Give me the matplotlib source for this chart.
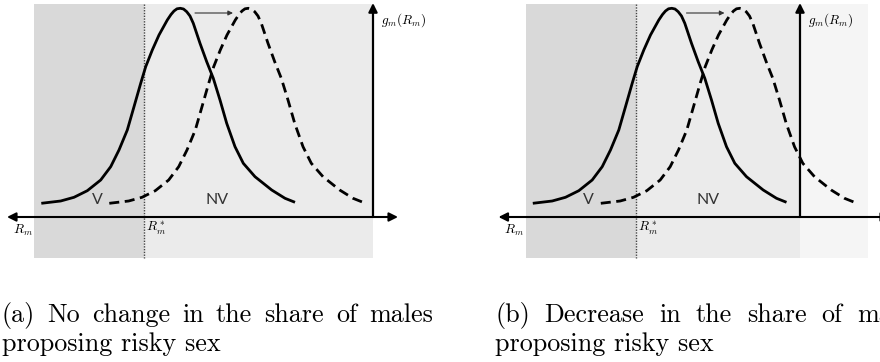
import matplotlib
matplotlib.use('Agg')
import matplotlib.pyplot as plt

plt.rcParams['mathtext.fontset'] = 'cm'

# solid density: x position and height above the R_m axis
curve_x = [41.3, 60.7, 74, 87.3, 100.7, 110.7, 119, 127.3, 134, 140.7, 145.7, 152.3,
           159, 167.3, 171, 174, 177, 180.3, 183.5, 186.7, 190, 193.3, 200, 206.7,
           213.3, 220, 226.7, 235, 243.3, 255, 271.7, 285, 295]
curve_h = [13.7, 16, 19.7, 26.3, 37, 50.3, 67, 87, 110.3, 133.7, 150.3, 167,
           182, 197, 202.5, 206, 208.2, 208.7, 208, 205.3, 201, 193.7, 173.7, 155.3,
           138.7, 117, 93.7, 70.3, 53.7, 40.3, 27, 18.7, 14.7]
shift = 68          # dashed curve = solid moved right
axis_y = 217

panels = ['a', 'b']
offsets = [0, 491.5]
vaxis_x = [373, 800]
rect_right = [373, 868]
cut_x = 144          # R_m^* in panel (a)

cap1 = [['(a)', 'No', 'change', 'in', 'the', 'share', 'of', 'males'],
        ['(b)', 'Decrease', 'in', 'the', 'share', 'of', 'males']]
cap1_span = [(2, 433), (495, None)]   # left edge, right edge of first caption line
last_word_x = [370, 857]
cap2 = 'proposing risky sex'
cap_size = 18.8

fig = plt.figure(figsize=(8.8, 3.62), dpi=100)
ax = fig.add_axes([0, 0, 1, 1])
ax.set_xlim(0, 880)
ax.set_ylim(362, 0)
ax.axis('off')
renderer = fig.canvas.get_renderer()

for i, p in enumerate(panels):
    o = offsets[i]
    left = 34 + o
    cx = cut_x + o
    # background shading
    ax.fill_between([left, cx], 4, 258, color='#d9d9d9', lw=0)
    ax.fill_between([cx, vaxis_x[i]], 4, 258, color='#ebebeb', lw=0)
    if rect_right[i] > vaxis_x[i]:
        ax.fill_between([vaxis_x[i], rect_right[i]], 4, 258, color='#f5f5f5', lw=0)
    ax.plot([cx, cx], [4, 258], color='#444444', lw=1.0, ls=(0, (1, 1)))

    # axes arrows
    right_end = 398 if p == 'a' else 890
    ax.annotate('', xy=(7 + o, axis_y), xytext=(right_end, axis_y),
                arrowprops=dict(arrowstyle='<|-|>', lw=1.5, color='black',
                                mutation_scale=13, shrinkA=0, shrinkB=0))
    ax.annotate('', xy=(vaxis_x[i], 3), xytext=(vaxis_x[i], axis_y),
                arrowprops=dict(arrowstyle='-|>', lw=1.6, color='black',
                                mutation_scale=13, shrinkA=0, shrinkB=0))

    xs = [x + o for x in curve_x]
    ys = [axis_y - h for h in curve_h]
    ax.plot(xs, ys, color='black', lw=2.0, solid_capstyle='butt', solid_joinstyle='round')
    ax.plot([x + shift for x in xs], ys, color='black', lw=2.0, dashes=(3.6, 2.0))

    # shift arrow
    ax.annotate('', xy=(233 + o, 13), xytext=(195 + o, 13),
                arrowprops=dict(arrowstyle='-|>', lw=0.8, color='#333333',
                                mutation_scale=7, shrinkA=0, shrinkB=0))

    ax.text(97 + o, 200, 'V', fontsize=11.5, family='Lato', color='#333333',
            ha='center', va='center')
    ax.text(217 + o, 200, 'NV', fontsize=11.5, family='Lato', color='#333333',
            ha='center', va='center')
    ax.text(13 + o, 230, r'$R_m$', fontsize=9.5, ha='left', va='center')
    ax.text(146 + o, 228, r'$R_m^*$', fontsize=9.5, ha='left', va='center')
    ax.text(vaxis_x[i] + 8, 20, r'$g_m(R_m)$', fontsize=9.5, ha='left', va='center')

    # justified first caption line
    words = [ax.text(0, 322, w, fontsize=cap_size, family='cmr10', ha='left',
                     va='baseline') for w in cap1[i]]
    widths = [t.get_window_extent(renderer).width for t in words]
    x0 = cap1_span[i][0]
    x_last = last_word_x[i] if cap1_span[i][1] is None else cap1_span[i][1] - widths[-1]
    gap = (x_last - x0 - sum(widths[:-1])) / (len(words) - 1)
    x = x0
    for t, wd in zip(words, widths):
        t.set_x(x)
        x += wd + gap
    ax.text(x0, 351, cap2, fontsize=cap_size, family='cmr10', ha='left',
            va='baseline')

fig.savefig('out.png', dpi=100)
